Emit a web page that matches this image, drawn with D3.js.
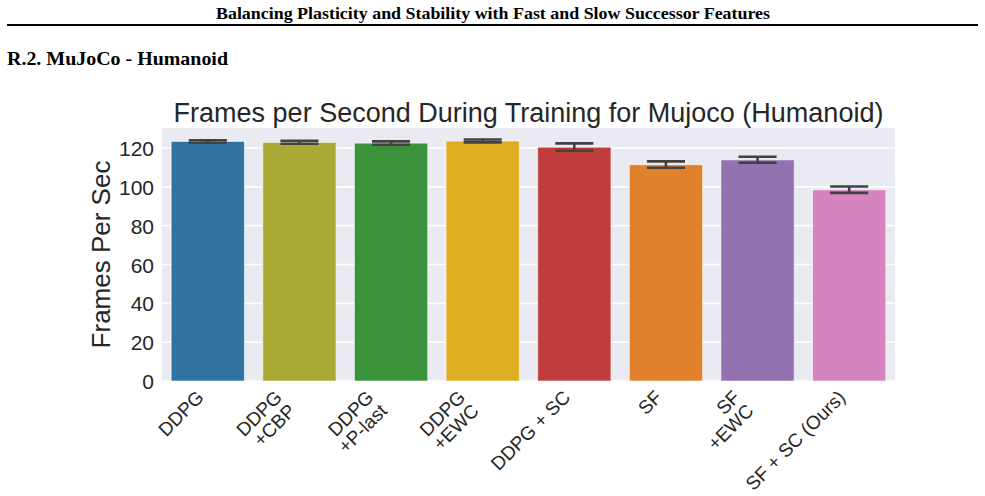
<!DOCTYPE html>
<html>
<head>
<meta charset="utf-8">
<script src="https://cdn.jsdelivr.net/npm/d3@7"></script>
<style>
  body { margin: 0; background: #fff; }
  svg { display: block; }
</style>
</head>
<body>
<div id="chart"></div>
<script>
// bar chart data
var methods = ['DDPG', 'DDPG\n+CBP', 'DDPG\n+P-last', 'DDPG\n+EWC', 'DDPG + SC', 'SF', 'SF\n+EWC', 'SF + SC (Ours)'];
var fpsMean = [123.4, 122.9, 122.5, 123.6, 120.4, 111.4, 113.9, 98.5];
var fpsLow = [122.7, 122.2, 121.7, 122.9, 118.6, 109.8, 112.4, 96.9];
var fpsHigh = [124.0, 123.7, 123.4, 124.4, 122.4, 113.1, 115.5, 100.2];
var barColors = ['#3274a1', '#a9aa35', '#3a923a', '#dfad20', '#c03d3e', '#e1812c', '#9372b2', '#d684bd'];
var yTicks = [0, 20, 40, 60, 80, 100, 120];

var totalWidth = 985;
var totalHeight = 496;
var margin = {top: 128, right: 90, bottom: 115, left: 162};
var width = 895 - margin.left;
var height = 381 - margin.top;

var svg = d3.select('#chart').append('svg')
  .attr('width', totalWidth)
  .attr('height', totalHeight);

// paper header
svg.append('text')
  .attr('x', 493)
  .attr('y', 19)
  .attr('text-anchor', 'middle')
  .attr('textLength', 554)
  .attr('lengthAdjust', 'spacingAndGlyphs')
  .style('font-family', '"Liberation Serif", "Times New Roman", serif')
  .style('font-weight', 'bold')
  .style('font-size', '16px')
  .text('Balancing Plasticity and Stability with Fast and Slow Successor Features');

svg.append('line')
  .attr('x1', 7).attr('x2', 978)
  .attr('y1', 25).attr('y2', 25)
  .attr('stroke', '#000')
  .attr('stroke-width', 2);

svg.append('text')
  .attr('x', 7)
  .attr('y', 65)
  .attr('textLength', 221)
  .attr('lengthAdjust', 'spacingAndGlyphs')
  .style('font-family', '"Liberation Serif", "Times New Roman", serif')
  .style('font-weight', 'bold')
  .style('font-size', '19px')
  .text('R.2. MuJoCo - Humanoid');

var g = svg.append('g')
  .attr('transform', 'translate(' + margin.left + ',' + margin.top + ')');

var x = d3.scaleBand()
  .domain(methods)
  .range([0, width])
  .paddingInner(0.2)
  .paddingOuter(0.1);

var y = d3.scaleLinear()
  .domain([0, 130.3])
  .range([height, 0]);

g.append('rect')
  .attr('width', width)
  .attr('height', height)
  .attr('fill', '#eaeaf2');

g.selectAll('.grid')
  .data(yTicks)
  .enter().append('line')
  .attr('class', 'grid')
  .attr('x1', 0).attr('x2', width)
  .attr('y1', d => y(d)).attr('y2', d => y(d))
  .attr('stroke', '#fff')
  .attr('stroke-width', 1.6);

var rows = methods.map((m, i) => ({name: m, mean: fpsMean[i], lo: fpsLow[i], hi: fpsHigh[i], color: barColors[i]}));

g.selectAll('.bar')
  .data(rows)
  .enter().append('rect')
  .attr('class', 'bar')
  .attr('x', d => x(d.name))
  .attr('y', d => y(d.mean))
  .attr('width', x.bandwidth())
  .attr('height', d => y(0) - y(d.mean))
  .attr('fill', d => d.color)
  .attr('stroke', '#fff')
  .attr('stroke-opacity', 0.6)
  .attr('stroke-width', 1);

// error bars
var capW = x.bandwidth() * 0.52;
var err = g.selectAll('.err')
  .data(rows)
  .enter().append('g')
  .attr('class', 'err')
  .attr('transform', d => 'translate(' + (x(d.name) + x.bandwidth() / 2) + ',0)')
  .attr('stroke', '#424242')
  .attr('stroke-width', 2.6);

err.append('line')
  .attr('y1', d => y(d.lo)).attr('y2', d => y(d.hi));
err.append('line')
  .attr('x1', -capW / 2).attr('x2', capW / 2)
  .attr('y1', d => y(d.lo)).attr('y2', d => y(d.lo));
err.append('line')
  .attr('x1', -capW / 2).attr('x2', capW / 2)
  .attr('y1', d => y(d.hi)).attr('y2', d => y(d.hi));

// y axis
var yAxis = g.append('g')
  .call(d3.axisLeft(y).tickValues(yTicks).tickSize(0).tickPadding(8));
yAxis.select('.domain').remove();
yAxis.selectAll('text')
  .attr('dy', '0.36em')
  .style('font-family', '"Liberation Sans", Arial, sans-serif')
  .style('font-size', '21px')
  .style('fill', '#262626');

// x axis, rotated multi-line labels
var lineH = 19;
var xLab = g.append('g')
  .selectAll('.xlab')
  .data(rows)
  .enter().append('g')
  .attr('class', 'xlab')
  .attr('transform', function(d) {
    var n = d.name.split('\n').length;
    var h = n * lineH;
    var cx = x(d.name) + x.bandwidth() / 2 - h * 0.707;
    return 'translate(' + cx + ',' + (height + 7) + ') rotate(-45)';
  });

xLab.append('text')
  .attr('text-anchor', 'end')
  .style('font-family', '"Liberation Sans", Arial, sans-serif')
  .style('font-size', '19px')
  .style('fill', '#262626')
  .selectAll('tspan')
  .data(d => d.name.split('\n'))
  .enter().append('tspan')
  .attr('x', 0)
  .attr('y', (d, i) => (i + 1) * lineH - 4)
  .text(d => d);

// title and y label
svg.append('text')
  .attr('x', margin.left + width / 2)
  .attr('y', 122)
  .attr('text-anchor', 'middle')
  .style('font-family', '"Liberation Sans", Arial, sans-serif')
  .style('font-size', '27px')
  .style('fill', '#262626')
  .text('Frames per Second During Training for Mujoco (Humanoid)');

svg.append('text')
  .attr('transform', 'translate(110,' + (margin.top + height / 2) + ') rotate(-90)')
  .attr('text-anchor', 'middle')
  .style('font-family', '"Liberation Sans", Arial, sans-serif')
  .style('font-size', '26px')
  .style('fill', '#262626')
  .text('Frames Per Sec');
</script>
</body>
</html>
